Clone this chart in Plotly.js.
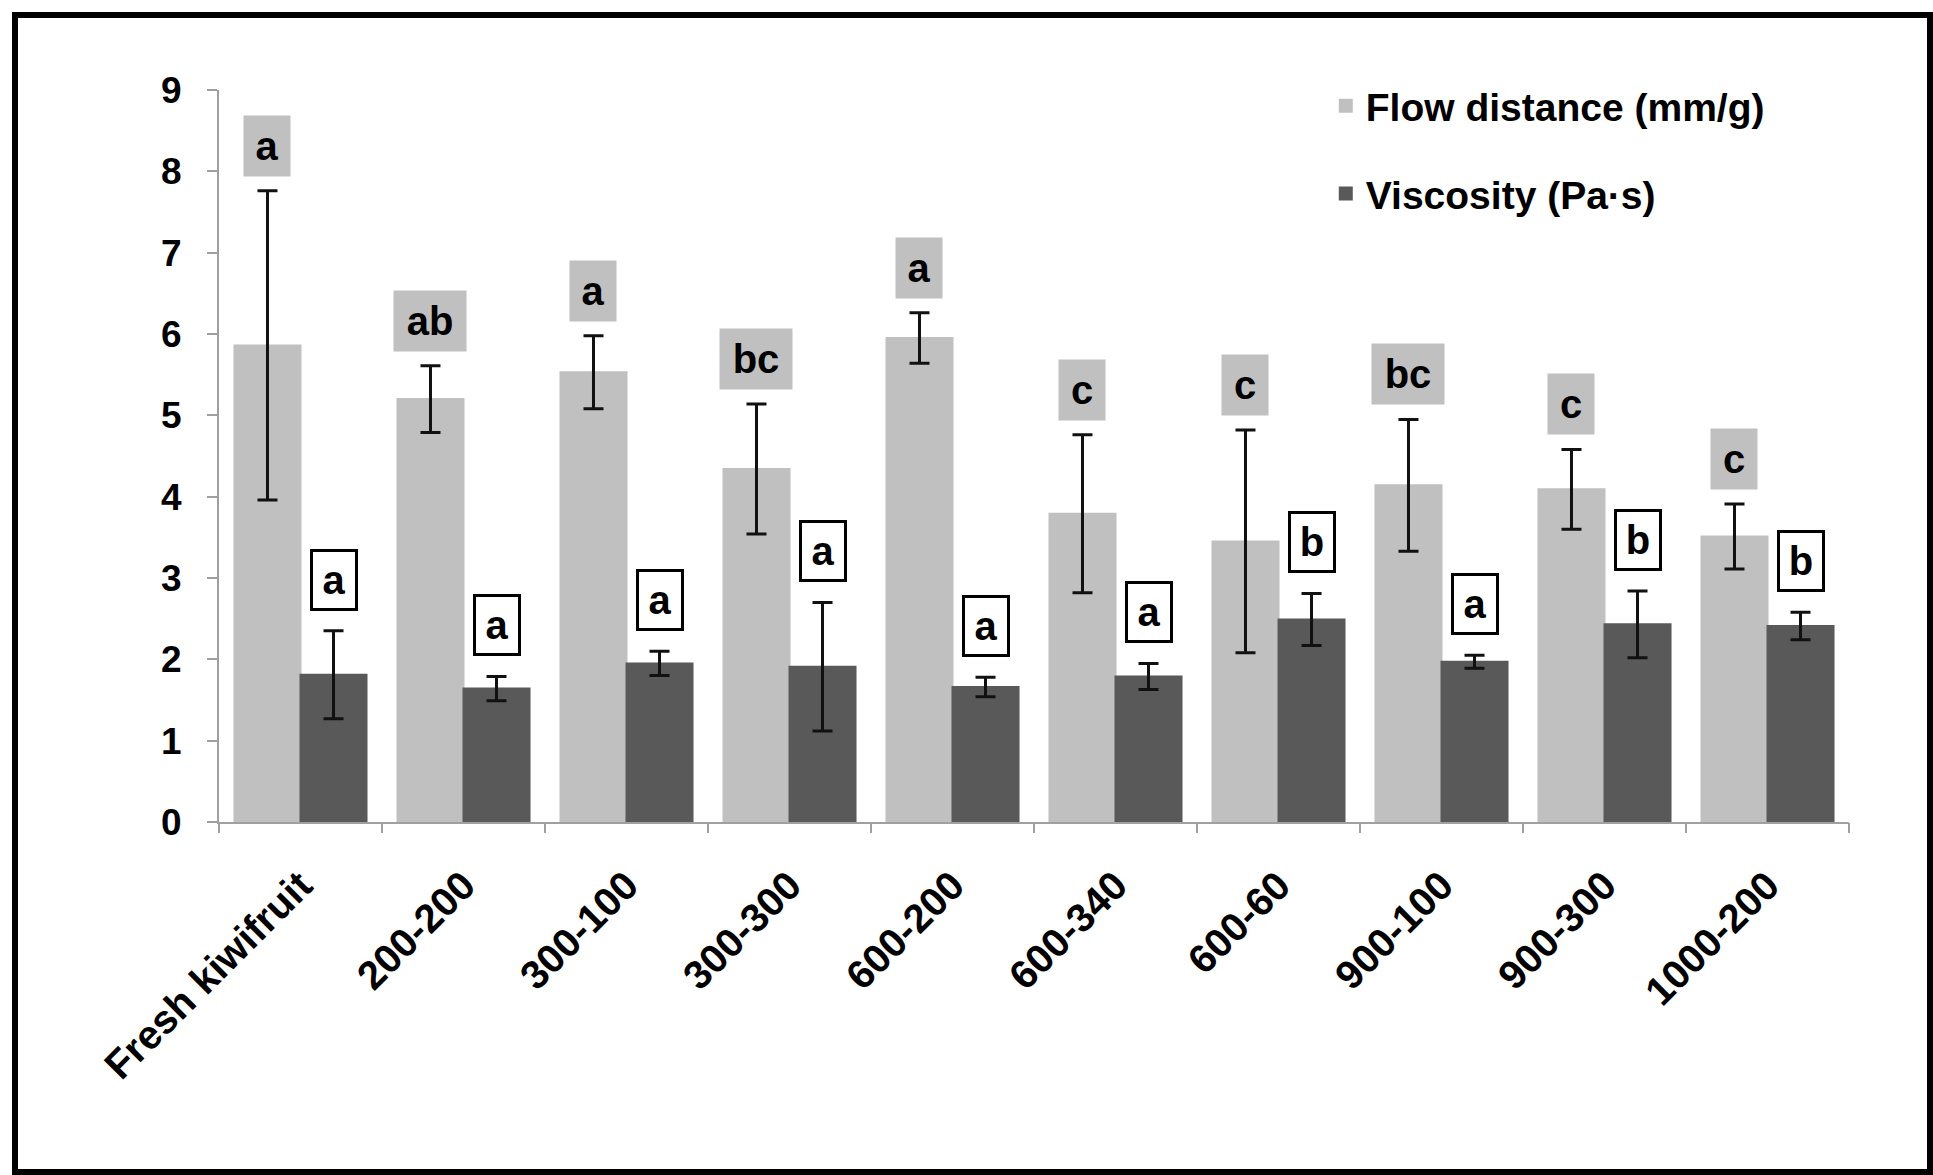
<!DOCTYPE html>
<html>
<head>
<meta charset="utf-8">
<script src="https://cdn.plot.ly/plotly-3.0.1.min.js"></script>
<style>
  html, body { margin: 0; padding: 0; background: #fff; }
  #chart { width: 1933px; height: 1175px; }
  #frame { position: absolute; left: 12px; top: 12px; width: 1921px; height: 1163px;
           border: 6px solid #000; box-sizing: border-box; pointer-events: none; }
</style>
</head>
<body>
<div id="chart"></div>
<div id="frame"></div>
<script>
const categories = ['Fresh kiwifruit', '200-200', '300-100', '300-300', '600-200', '600-340', '600-60', '900-100', '900-300', '1000-200'];
const flowDistance = [5.86, 5.20, 5.53, 4.34, 5.95, 3.79, 3.45, 4.14, 4.09, 3.51];
const flowError = [1.90, 0.41, 0.45, 0.80, 0.31, 0.97, 1.37, 0.81, 0.49, 0.40];
const viscosity = [1.81, 1.64, 1.95, 1.91, 1.66, 1.79, 2.49, 1.97, 2.43, 2.41];
const viscosityError = [0.54, 0.15, 0.15, 0.79, 0.12, 0.16, 0.32, 0.08, 0.41, 0.17];
const flowLetters = ['a', 'ab', 'a', 'bc', 'a', 'c', 'c', 'bc', 'c', 'c'];
const viscosityLetters = ['a', 'a', 'a', 'a', 'a', 'a', 'b', 'a', 'b', 'b'];
const yTicks = [0, 1, 2, 3, 4, 5, 6, 7, 8, 9];

const FONT = '"Liberation Sans", Arial, sans-serif';
const flowColor = '#c0c0c0';
const viscColor = '#595959';
const bargap = 0.19;
const halfOffset = (1 - bargap) / 4;

const traces = [
  {
    type: 'bar', name: 'Flow distance (mm/g)', x: categories.map((c, i) => i), y: flowDistance,
    marker: { color: flowColor, line: { color: flowColor, width: 2 } }, legendgroup: 'f',
    error_y: { type: 'data', array: flowError, visible: true, color: '#111', thickness: 3, width: 10 }
  },
  {
    type: 'bar', name: 'Viscosity (Pa·s)', x: categories.map((c, i) => i), y: viscosity,
    marker: { color: viscColor, line: { color: viscColor, width: 2 } }, legendgroup: 'v',
    error_y: { type: 'data', array: viscosityError, visible: true, color: '#111', thickness: 3, width: 10 }
  }
];

const annotations = [];
flowLetters.forEach((t, i) => {
  annotations.push({
    x: i - halfOffset, y: flowDistance[i] + flowError[i], xref: 'x', yref: 'y',
    text: t, showarrow: false, yanchor: 'middle', yshift: 45,
    bgcolor: flowColor, borderpad: 8, width: t.length > 1 ? 56 : 30, height: 44,
    font: { family: FONT, size: 40, color: '#000', weight: 'bold' }
  });
});
viscosityLetters.forEach((t, i) => {
  annotations.push({
    x: i + halfOffset, y: viscosity[i] + viscosityError[i], xref: 'x', yref: 'y',
    text: t, showarrow: false, yanchor: 'middle', yshift: 51,
    bgcolor: '#ffffff', bordercolor: '#000', borderwidth: 3, borderpad: 6, width: 30, height: 44,
    font: { family: FONT, size: 40, color: '#000', weight: 'bold' }
  });
});

const layout = {
  width: 1933, height: 1175,
  margin: { l: 219, r: 84, t: 90, b: 353 },
  paper_bgcolor: '#fff', plot_bgcolor: '#fff',
  barmode: 'group', bargap: bargap, bargroupgap: 0,
  font: { family: FONT, color: '#000' },
  showlegend: true,
  legend: {
    x: 0.679, y: 1.022, xanchor: 'left', yanchor: 'top',
    traceorder: 'grouped', tracegroupgap: 34,
    font: { family: FONT, size: 39, color: '#000', weight: 'bold' },
    bgcolor: 'rgba(0,0,0,0)'
  },
  xaxis: {
    type: 'linear', range: [-0.5, categories.length - 0.5],
    tickmode: 'array', tickvals: categories.map((c, i) => i), ticktext: categories,
    tickangle: -45, showgrid: false, zeroline: false,
    showline: true, linecolor: '#a0a0a0', linewidth: 2,
    ticks: '', ticklabelstandoff: 22,
    tickfont: { family: FONT, size: 40, color: '#000', weight: 'bold' }
  },
  xaxis2: {
    overlaying: 'x', matches: 'x', side: 'bottom', anchor: 'y',
    tickmode: 'array', tickvals: categories.map((c, i) => i - 0.5).concat([categories.length - 0.5]),
    ticktext: categories.map(() => '').concat(['']),
    ticks: 'outside', ticklen: 10, tickcolor: '#a0a0a0', tickwidth: 2,
    showgrid: false, zeroline: false, showline: false, showticklabels: false
  },
  yaxis: {
    range: [0, 9], tickmode: 'array', tickvals: yTicks, ticktext: yTicks.map(String),
    showgrid: false, zeroline: false,
    showline: true, linecolor: '#a0a0a0', linewidth: 2,
    ticks: 'outside', ticklen: 10, tickcolor: '#a0a0a0', tickwidth: 2,
    tickfont: { family: FONT, size: 37, color: '#000', weight: 'bold' },
    ticklabelstandoff: 18
  },
  annotations: annotations
};

// invisible helper trace so the boundary tick marks of xaxis2 are drawn
traces.push({ type: 'scatter', x: [0], y: [0], xaxis: 'x2', yaxis: 'y', mode: 'markers',
  marker: { opacity: 0 }, showlegend: false, hoverinfo: 'skip' });

Plotly.newPlot('chart', traces, layout, { displayModeBar: false, staticPlot: true });
</script>
</body>
</html>
